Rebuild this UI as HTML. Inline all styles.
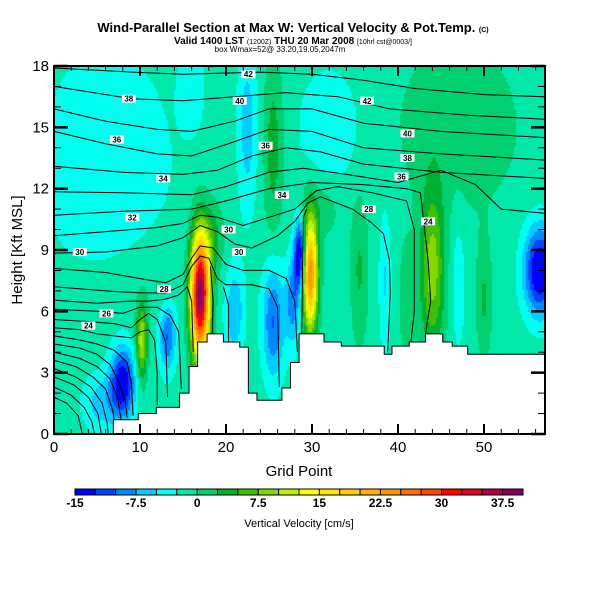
<!DOCTYPE html>
<html><head><meta charset="utf-8">
<style>
body{margin:0;background:#fff;width:600px;height:600px;overflow:hidden;font-family:"Liberation Sans",sans-serif;}
#wrap{position:relative;width:600px;height:600px;}
canvas{position:absolute;left:54px;top:66px;}
svg{position:absolute;left:0;top:0;}
</style></head><body>
<div id="wrap">
<canvas id="heat" width="491" height="368"></canvas>
<svg id="svg" width="600" height="600">
<text x="293" y="32" text-anchor="middle" font-size="13" font-weight="bold">Wind-Parallel Section at Max W: Vertical Velocity &amp; Pot.Temp. <tspan font-size="7">(C)</tspan></text>
<text x="293" y="44" text-anchor="middle" font-size="10" font-weight="bold">Valid 1400 LST <tspan font-size="7" font-weight="normal">(1200Z)</tspan> THU 20 Mar 2008 <tspan font-size="7" font-weight="normal">[10hrl cst@0003/]</tspan></text>
<text x="280" y="52" text-anchor="middle" font-size="8">box Wmax=52@ 33.20,19.05,2047m</text>
<g id="plot"></g>
<text x="299" y="476" text-anchor="middle" font-size="15">Grid Point</text>
<text x="0" y="0" transform="translate(22,250) rotate(-90)" text-anchor="middle" font-size="15">Height [Kft MSL]</text>
<g id="cbar"></g>
<text x="299" y="527" text-anchor="middle" font-size="11">Vertical Velocity [cm/s]</text>
</svg>
</div>
<script>
// ---- data ----
const xTicks=[0,10,20,30,40,50];
const yTicks=[0,3,6,9,12,15,18];
const cbarLabels=["-15","-7.5","0","7.5","15","22.5","30","37.5"];
const cbarColors=["#0000ff","#0044ff","#0088ff","#00ccff","#00ffee","#00e8aa","#00d070","#00b030","#40c000","#88d800","#c0f000","#ffff00","#ffe800","#ffd000","#ffb000","#ff9800","#ff7000","#ff4800","#ff0000","#e00020","#b00048","#880060"];
const wBase=-1.2;
// velocity cells: [grid x, height km, spread x, spread z, amplitude cm/s]
const wCellX=[17.0,29.8,28.6,27.8,8.0,5.5,13.2,10.2,21.0,25.5,44,56.5,38.5,47,35.5,41,50,22.5,25.5,6,32,47,31,18.5,4,12.5,16,8];
const wCellZ=[6.8,7.8,8.8,6.5,2.5,1.5,4.8,4.5,6.0,5.5,8,8,7.5,7.5,8,6.5,6.5,15,14,15,15,15,11,9.5,10.5,7,17,12];
const wCellSX=[0.75,0.6,0.45,0.6,1.0,1.5,0.7,0.45,0.8,0.9,1.0,1.3,0.5,0.6,0.7,0.6,0.6,0.8,0.8,6,2.5,5,1.5,0.8,3,1,1,4];
const wCellSZ=[2.1,1.9,1.2,1.5,1.2,1.0,1.2,1.3,1.6,2,2.8,1.5,2.5,2.5,2.5,2,2,3,3,3.5,2,3,1,1.2,1.5,1,1.5,2];
const wCellAmp=[41,26,-16,-8,-14,-5,-9,12,-6,-9,10,-15,-4,-3,4,3,4,-5,5,-2.3,-3.5,3,3,5,-1.8,2,-3,-1.3];
// terrain steps [grid, km]
const terrainX=[0,6.9,9.8,11.9,14.6,15.7,16.7,17.8,19.7,21.6,22.6,23.6,26.5,27.5,28.5,31.4,33.4,38.4,39.3,41.3,43.2,45.2,46.3,48.1];
const terrainZ=[0,0.7,1.0,1.3,2.0,3.3,4.5,4.9,4.5,4.25,2.0,1.65,2.25,3.5,4.9,4.5,4.3,3.9,4.3,4.5,4.9,4.5,4.3,3.9];
// potential temperature contours [grid, km]
const thetaLines=[
[[0,17.9],[9,17.7],[15,17.6],[24,17.7],[30,17.6],[36,17.3],[42,16.9],[50,16.6],[57,16.5]],
[[0,17.0],[9,16.4],[15,16.3],[21,16.5],[27,16.7],[33,16.5],[39,15.9],[48,15.6],[57,15.4]],
[[0,15.9],[6,15.3],[12,14.9],[16,14.8],[21,15.3],[25,15.9],[30,15.9],[36,15.2],[45,14.8],[57,14.5]],
[[0,14.8],[6,14.2],[12,13.7],[16,13.6],[21,14.3],[25,14.9],[30,14.8],[36,14.0],[45,13.7],[57,13.4]],
[[0,13.1],[8,12.8],[15,12.7],[19,12.9],[23,13.6],[27,14.0],[31,13.8],[36,13.2],[45,12.8],[57,12.5]],
[[0,11.85],[8,11.8],[16,11.7],[20,12.1],[25,12.8],[29,13.0],[34,12.7],[40,12.3],[45,12.9],[49,12.2],[52,11.0],[57,10.8]],
[[0,10.7],[8,10.9],[16,11.0],[20,11.4],[25,12.0],[30,12.3],[36,12.2],[41,12.0],[42.6,11.8],[43.5,8.5],[43.8,6.5],[43.2,4.9]],
[[0,9.7],[6,9.9],[12,10.1],[15,10.3],[17,10.7],[19,10.6],[22,10.2],[25,10.6],[28,11.0],[30.5,11.9],[33,12.1],[37,11.8],[41,11.4],[41.9,10],[41.9,6],[41.5,4.5]],
[[0,8.85],[6,8.9],[12,9.2],[15,9.6],[17,10.2],[19,9.9],[21,9.3],[23,9.1],[26,9.7],[28,10.4],[29.5,11.3],[31,11.6],[34.7,11.0],[37,10.3],[38.3,9.8],[39.0,8.5],[39.1,6.9],[38.8,4.0]],
[[28.8,4.9],[28.9,8],[29.0,10.6],[29.4,11.0]],
[[0,8.1],[6,7.9],[10,7.6],[13,7.4],[15,7.8],[16,8.6],[17,9.2],[18.5,9.1],[20,8.3],[22,8.0],[25,8.0],[27,7.6],[28,6.5],[28.3,4.0]],
[[0,7.2],[6,7.0],[10,6.9],[13,6.9],[15,7.3],[16,8.2],[17,8.7],[18,8.6],[19,7.6],[20,7.3],[23,7.3],[25,7.1],[26,6.2],[26.2,2.3]],
[[18.2,8.2],[18.5,6.5],[18.4,4.9]],
[[19.7,7.2],[20.3,6.3],[20.3,4.5]],
[[0,6.55],[5,6.4],[9,6.5],[11,6.5],[13,6.6],[14.5,6.8],[15.5,7.2],[16,6.5],[16.2,4]],
[[0,6.1],[5,6.0],[8,5.9],[10,6.2],[12,6.2],[13.5,5.8],[14.5,5.0],[14.8,2.2]],
[[0,5.6],[4,5.5],[7,5.4],[9,5.2],[10,5.6],[11,5.9],[12,5.6],[13,4.5],[13.2,1.8]],
[[0,5.2],[3,5.1],[5,4.9],[7,4.8],[9,4.7],[10,5.0],[11,5.1],[11.7,4.6],[12,3],[12,1.4]],
[[0,4.8],[3,4.6],[5,4.4],[7,4.1],[8.5,3.5],[9,2.5],[9.2,0.9]],
[[0,4.4],[3,4.2],[5,3.9],[6.5,3.4],[7.5,2.6],[8.3,1.6],[8.5,0.8]],
[[0,4.0],[3,3.7],[5,3.3],[6.5,2.7],[7.4,1.8],[7.8,0.7]],
[[0,3.6],[2.5,3.3],[4.5,2.8],[6,2.2],[6.8,1.2],[7.0,0.7]],
[[0,3.2],[2.5,2.8],[4.3,2.3],[5.6,1.5],[6.2,0.5],[6.3,0]],
[[0,2.8],[2.3,2.4],[4,1.8],[5.1,1.0],[5.5,0]],
[[0,2.3],[2,1.9],[3.5,1.3],[4.4,0.6],[4.7,0]],
[[0,1.8],[1.5,1.5],[2.8,0.9],[3.3,0]]
];
const labelText=["42","40","38","36","34","32","30","28","26","24","30","30","36","42","40","38","36","34","28","24"];
const labelX=[22.6,21.6,8.7,7.3,12.7,9.1,3.0,12.8,6.1,4.0,20.3,21.5,24.6,36.4,41.1,41.1,40.4,26.5,36.6,43.5];
const labelZ=[17.6,16.3,16.4,14.4,12.5,10.6,8.9,7.1,5.9,5.3,10.0,8.9,14.1,16.3,14.7,13.5,12.6,11.7,11.0,10.4];
// ---- scales ----
const X0=54,X1=545,Y0=434,Y1=66,GMAX=(545-54)/8.6;
const sx=g=>X0+g*8.6;
const sy=z=>Y0-z*(Y0-Y1)/18;
const NS="http://www.w3.org/2000/svg";
function mk(tag,attrs,parent){const e=document.createElementNS(NS,tag);for(const k in attrs)e.setAttribute(k,attrs[k]);parent.appendChild(e);return e;}
// ---- heatmap ----
const ctx=document.getElementById('heat').getContext('2d');
const cell=2;
for(let px=0;px<491;px+=cell){for(let py=0;py<368;py+=cell){
 const g=(px+cell/2)/8.6, z=(368-py-cell/2)*18/368;
 let w=wBase;
 for(let i=0;i<wCellX.length;i++){const dx=(g-wCellX[i])/wCellSX[i],dz=(z-wCellZ[i])/wCellSZ[i];w+=wCellAmp[i]*Math.exp(-0.5*(dx*dx+dz*dz));}
 let b=Math.floor((w+15)/2.5);b=Math.max(0,Math.min(21,b));
 ctx.fillStyle=cbarColors[b];ctx.fillRect(px,py,cell,cell);
}}
const plot=document.getElementById('plot');
// contours
const cg=mk('g',{},plot);
thetaLines.forEach((ln,i)=>{
 const p=mk('polyline',{points:ln.map(q=>sx(q[0]).toFixed(1)+','+sy(q[1]).toFixed(1)).join(' '),fill:'none',stroke:'#000','stroke-width':'1'},cg);
 
 
});
// terrain
let pts=[];
for(let i=0;i<terrainX.length;i++){const xa=sx(terrainX[i]),xb=i+1<terrainX.length?sx(terrainX[i+1]):X1;pts.push(xa+','+sy(terrainZ[i]),xb+','+sy(terrainZ[i]));}
pts.push(X1+','+Y0,X0+','+Y0);
const terr=mk('polygon',{points:pts.join(' '),fill:'#fff',stroke:'#000','stroke-width':'1'},plot);


// labels
const lg=mk('g',{},plot);
labelText.forEach((t,i)=>{
 const x=sx(labelX[i]),y=sy(labelZ[i]);
 const r=mk('rect',{x:x-7,y:y-4,width:14,height:8,fill:'#fff'},lg);
 
 
 const tx=mk('text',{x:x,y:y+3,'text-anchor':'middle','font-size':'8','font-weight':'bold'},lg);
 tx.textContent=t;
 
 
});
// frame & ticks
const fr=mk('rect',{x:X0,y:Y1,width:X1-X0,height:Y0-Y1,fill:'none',stroke:'#000','stroke-width':'2'},plot);


const tg=mk('g',{stroke:'#000',},plot);
for(let g=0;g<=GMAX;g+=2){const major=g%10===0;const L=major?10:5;const w=major?2:1;
 mk('line',{x1:sx(g),x2:sx(g),y1:Y0,y2:Y0-L,'stroke-width':w},tg);
 mk('line',{x1:sx(g),x2:sx(g),y1:Y1,y2:Y1+L,'stroke-width':w},tg);}
for(let z=0;z<=18;z++){const major=z%3===0;const L=major?14:7;const w=major?2.5:1;
 mk('line',{x1:X0,x2:X0+L,y1:sy(z),y2:sy(z),'stroke-width':w},tg);
 mk('line',{x1:X1,x2:X1-L,y1:sy(z),y2:sy(z),'stroke-width':w},tg);}
xTicks.forEach(v=>{const t=mk('text',{x:sx(v),y:452,'text-anchor':'middle','font-size':'15'},plot);t.textContent=v;
 
 });
yTicks.forEach(v=>{const t=mk('text',{x:49,y:sy(v)+5,'text-anchor':'end','font-size':'15'},plot);t.textContent=v;
 
 });
// colorbar
const cb=document.getElementById('cbar');
const bw=(523-75)/cbarColors.length;
cbarColors.forEach((c,i)=>{const r=mk('rect',{x:75+i*bw,y:489,width:bw,height:6,fill:c,stroke:'#000','stroke-width':'1'},cb);
 
 });
cbarLabels.forEach((l,i)=>{const t=mk('text',{x:75+i*3*bw,y:507,'text-anchor':'middle','font-size':'12','font-weight':'bold'},cb);t.textContent=l;
 
 });
</script>
</body></html>
